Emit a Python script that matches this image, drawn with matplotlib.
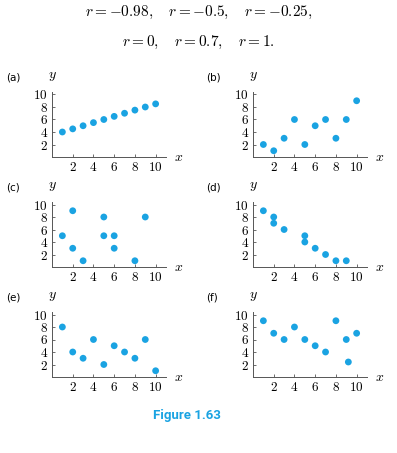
import matplotlib.pyplot as plt

plt.rcParams['mathtext.fontset'] = 'cm'
plt.rcParams['font.family'] = ['DejaVu Serif']

DOT = '#1aa3e2'

# scatter data per panel
a_x = [1, 2, 3, 4, 5, 6, 7, 8, 9, 10]
a_y = [4, 4.5, 5, 5.5, 6, 6.5, 7, 7.5, 8, 8.5]
b_x = [1, 2, 3, 4, 5, 6, 7, 8, 9, 10]
b_y = [2, 1, 3, 6, 2, 5, 6, 3, 6, 9]
c_x = [1, 2, 2, 3, 5, 5, 6, 6, 8, 9]
c_y = [5, 9, 3, 1, 8, 5, 5, 3, 1, 8]
d_x = [1, 2, 2, 3, 5, 5, 6, 7, 8, 9]
d_y = [9, 8, 7, 6, 5, 4, 3, 2, 1, 1]
e_x = [1, 2, 3, 4, 5, 6, 7, 8, 9, 10]
e_y = [8, 4, 3, 6, 2, 5, 4, 3, 6, 1]
f_x = [1, 2, 3, 4, 5, 6, 7, 8, 9, 9.2, 10]
f_y = [9, 7, 6, 8, 6, 5, 4, 9, 6, 2.4, 7]

panels = [('(a)', a_x, a_y), ('(b)', b_x, b_y), ('(c)', c_x, c_y),
          ('(d)', d_x, d_y), ('(e)', e_x, e_y), ('(f)', f_x, f_y)]
ticks = [2, 4, 6, 8, 10]

W, H = 397, 453
fig = plt.figure(figsize=(W / 100, H / 100), dpi=100)

lefts = [52, 253]
bottoms = [157, 267, 377]
aw, ah = 114, 65

for i, (lab, xs, ys) in enumerate(panels):
    col, row = i % 2, i // 2
    ax = fig.add_axes([lefts[col] / W, 1 - bottoms[row] / H, aw / W, ah / H])
    ax.scatter(xs, ys, s=24, color=DOT, edgecolors='none', zorder=3, clip_on=False)
    ax.set_xlim(0, 11)
    ax.set_ylim(0, 10.4)
    for s in ['top', 'right']:
        ax.spines[s].set_visible(False)
    for s in ['left', 'bottom']:
        ax.spines[s].set_linewidth(0.7)
        ax.spines[s].set_color('#555555')
    ax.set_xticks(ticks)
    ax.set_yticks(ticks)
    ax.set_xticklabels(['$%d$' % t for t in ticks], fontsize=9.5)
    ax.set_yticklabels(['$%d$' % t for t in ticks], fontsize=9.5)
    ax.tick_params(direction='in', length=2.5, width=0.6, color='#555555', pad=3)
    ax.text(1.07, 0.0, '$x$', transform=ax.transAxes, fontsize=10, va='center', ha='left')
    ax.text(0.0, 1.25, '$y$', transform=ax.transAxes, fontsize=10, va='center', ha='center')
    ax.text(-0.40 if col == 0 else -0.41, 1.22, lab, transform=ax.transAxes,
            fontsize=7.5, family='DejaVu Sans', va='center', ha='left')

fig.text(0.5, 1 - 12 / H, r'$r=-0.98,\quad r=-0.5,\quad r=-0.25,$',
         fontsize=11, ha='center', va='center')
fig.text(0.5, 1 - 42 / H, r'$r=0,\quad r=0.7,\quad r=1.$',
         fontsize=11, ha='center', va='center')
fig.text(187 / W, 1 - 415 / H, 'Figure 1.63', fontsize=9.5, fontweight='bold',
         color=DOT, family=['Roboto', 'DejaVu Sans'],
         ha='center', va='center')

fig.savefig('out.png', dpi=100, facecolor='white')
